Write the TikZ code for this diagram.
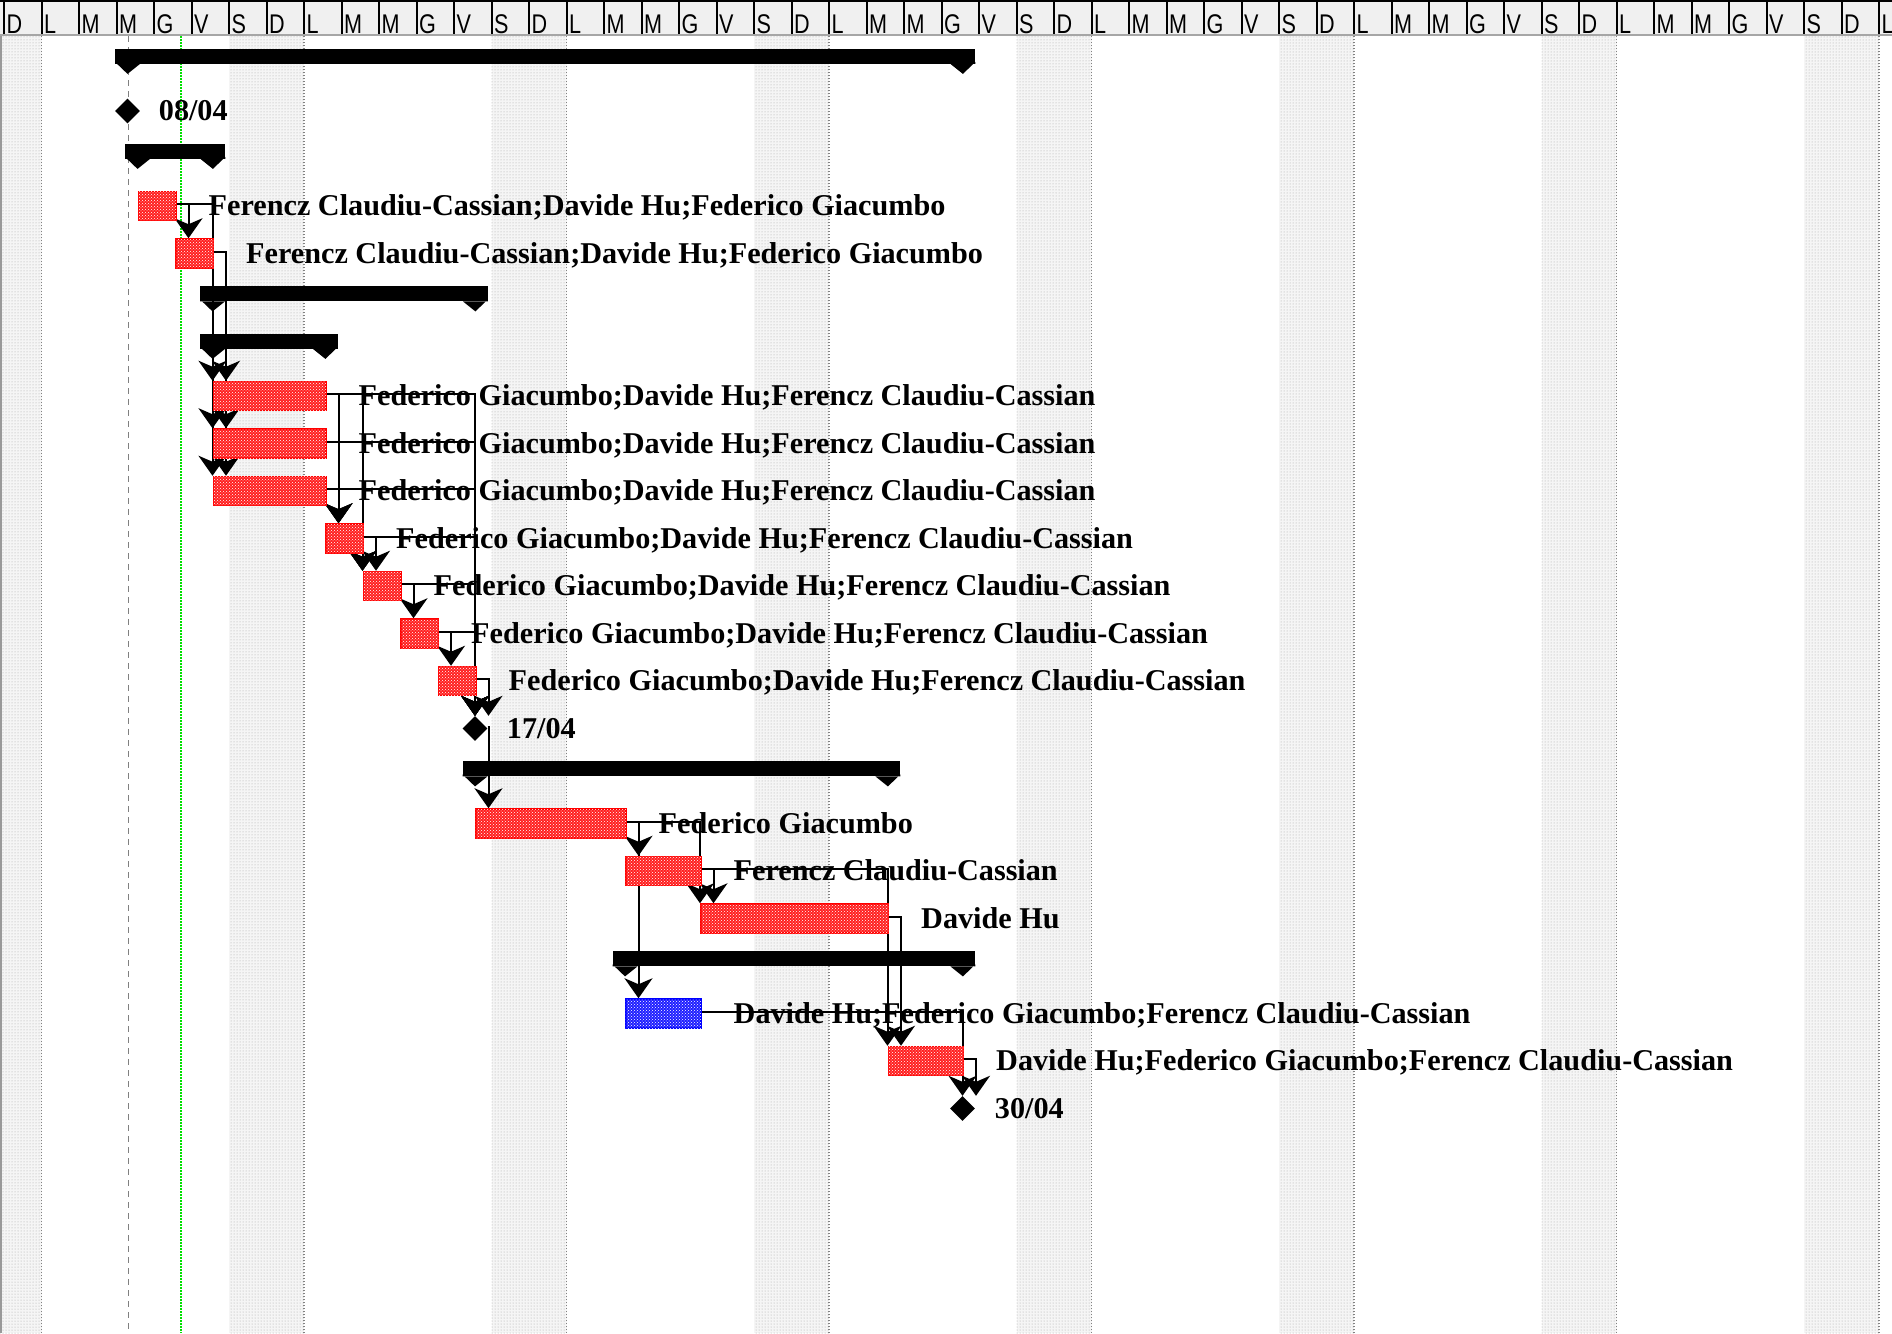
\documentclass[tikz,border=0pt]{standalone}
\usepackage{fontspec}
\setmainfont{Liberation Serif}
\newfontfamily\hdrfont[FakeStretch=0.8]{Liberation Sans}
\usetikzlibrary{positioning, shapes.geometric, patterns, arrows.meta}
\pgfdeclarelayer{grid}
\pgfdeclarelayer{links}
\pgfsetlayers{grid,links,main}
\definecolor{hdrgray}{RGB}{240,240,240}
\definecolor{wkgray}{RGB}{130,130,130}
\definecolor{todaygreen}{RGB}{0,225,0}

\begin{document}
\begin{tikzpicture}[x=1pt, y=-1pt,
    task/.style={draw=red, line width=1.5pt, fill=red!88!white, postaction={pattern=crosshatch dots, pattern color=white}, minimum height=29pt, inner sep=0pt, anchor=west},
    bluetask/.style={task, draw=blue, fill=blue!88!white},
    summ/.style={fill=black, minimum height=15pt, inner sep=0pt, anchor=north west},
    miles/.style={diamond, fill=black, minimum width=25pt, minimum height=25pt, inner sep=0pt},
    who/.style={font=\bfseries\fontsize{30.2}{31}\selectfont, inner sep=0pt, text height=25pt, text depth=6pt},
    deplink/.style={line width=2pt, -{Stealth[length=20pt, width=28pt, inset=6pt]}},
    dayletter/.style={font=\hdrfont\fontsize{27}{27}\selectfont, inner sep=0pt, anchor=base west}]
    \useasboundingbox (0,0) rectangle (1892,1333);

    % Calendar grid
    \begin{pgfonlayer}{grid}
    \fill[white] (0,0) rectangle (1892,1333);
    \fill[black!4, postaction={pattern=dots, pattern color=black!35}] (0,36) rectangle (41.5,1333);
    \foreach \w in {0,...,6}
        \fill[black!4, postaction={pattern=dots, pattern color=black!35}] (229+262.5*\w,36) rectangle ++(75,1297);
    \foreach \w in {0,...,7}
        \draw[wkgray, line width=1.5pt, dash pattern=on 1pt off 2pt] (41.5+262.5*\w,36) -- ++(0,1297);
    \draw[gray, line width=1.5pt, dash pattern=on 6pt off 5pt] (128.3,36) -- (128.3,1333);
    \draw[todaygreen, line width=1.5pt, dash pattern=on 1.5pt off 1.5pt] (181,36) -- (181,1333);
    \draw[gray!80, line width=2pt] (1,36) -- (1,1333);
    \end{pgfonlayer}

    % Header
    \fill[hdrgray] (0,0) rectangle (1892,34);
    \draw[line width=2pt] (0,1) -- (1892,1);
    \draw[gray!70, line width=2.5pt] (0,35) -- (1892,35);
    \foreach \k in {-1,...,49} {
        \pgfmathtruncatemacro\dnum{mod(\k+7,7)}
        \draw[line width=2pt] (41.5+37.5*\k,2) -- (41.5+37.5*\k,34);
        \node[dayletter] (hd\k) at (44+37.5*\k,33) {\ifcase\dnum L\or M\or M\or G\or V\or S\or D\fi};
    }

    % Summaries
    \foreach \nm/\xs/\xe/\yc in {s0/127.5/962.5/63.5, s2/137.5/212.5/158.5, s5/212.5/475/301, s6/212.5/325/348.5, s15/475/887.5/776, s19/625/962.5/966} {
        \node[summ, minimum width=\xe-\xs+25] (\nm) at (\xs-12.5,\yc-15) {};
        \fill (\nm.south west) -- ++(0,-2) -- ++(12.5,12) -- ++(12.5,-10) -- cycle;
        \fill (\nm.south east) -- ++(0,-2) -- ++(-12.5,12) -- ++(-12.5,-10) -- cycle;
    }

    % Milestones
    \node[miles] (m1) at (127.5,111) {};
    \node[miles] (m14) at (475,728.5) {};
    \node[miles] (m22) at (962.5,1108.5) {};
    \node[who, right=18.5pt of m1] (w1) {08/04};
    \node[who, right=19pt of m14] (w14) {17/04};
    \node[who, right=19.5pt of m22] (w22) {30/04};

    % Tasks
    \node[task, minimum width=37.5pt] (t3) at (137.5,206) {};
    \node[task, minimum width=37.5pt] (t4) at (175,253.5) {};
    \node[task, minimum width=112.5pt] (t7) at (212.5,396) {};
    \node[task, minimum width=112.5pt] (t8) at (212.5,443.5) {};
    \node[task, minimum width=112.5pt] (t9) at (212.5,491) {};
    \node[task, minimum width=37.5pt] (t10) at (325,538.5) {};
    \node[task, minimum width=37.5pt] (t11) at (362.5,586) {};
    \node[task, minimum width=37.5pt] (t12) at (400,633.5) {};
    \node[task, minimum width=37.5pt] (t13) at (437.5,681) {};
    \node[task, minimum width=150pt] (t16) at (475,823.5) {};
    \node[task, minimum width=75pt] (t17) at (625,871) {};
    \node[task, minimum width=187.5pt] (t18) at (700,918.5) {};
    \node[bluetask, minimum width=75pt] (t20) at (625,1013.5) {};
    \node[task, minimum width=75pt] (t21) at (887.5,1061) {};

    % Resources
    \node[who, right=32pt of t3] (w3) {Ferencz Claudiu-Cassian;Davide Hu;Federico Giacumbo};
    \node[who, right=32pt of t4] (w4) {Ferencz Claudiu-Cassian;Davide Hu;Federico Giacumbo};
    \node[who, right=32pt of t7] (w7) {Federico Giacumbo;Davide Hu;Ferencz Claudiu-Cassian};
    \node[who, right=32pt of t8] (w8) {Federico Giacumbo;Davide Hu;Ferencz Claudiu-Cassian};
    \node[who, right=32pt of t9] (w9) {Federico Giacumbo;Davide Hu;Ferencz Claudiu-Cassian};
    \node[who, right=32pt of t10] (w10) {Federico Giacumbo;Davide Hu;Ferencz Claudiu-Cassian};
    \node[who, right=32pt of t11] (w11) {Federico Giacumbo;Davide Hu;Ferencz Claudiu-Cassian};
    \node[who, right=32pt of t12] (w12) {Federico Giacumbo;Davide Hu;Ferencz Claudiu-Cassian};
    \node[who, right=32pt of t13] (w13) {Federico Giacumbo;Davide Hu;Ferencz Claudiu-Cassian};
    \node[who, right=32pt of t16] (w16) {Federico Giacumbo};
    \node[who, right=32pt of t17] (w17) {Ferencz Claudiu-Cassian};
    \node[who, right=32pt of t18] (w18) {Davide Hu};
    \node[who, right=32pt of t20] (w20) {Davide Hu;Federico Giacumbo;Ferencz Claudiu-Cassian};
    \node[who, right=32pt of t21] (w21) {Davide Hu;Federico Giacumbo;Ferencz Claudiu-Cassian};

    % Links
    \begin{pgfonlayer}{links}
    \draw[deplink] ([yshift=2pt]t3.east) -| ([xshift=13.5pt]t4.north west);
    \foreach \s in {t7,t8,t9} {
        \draw[deplink] ([yshift=2pt]t3.east) -| (\s.north west);
        \draw[deplink] ([yshift=2pt]t4.east) -| ([xshift=13.5pt]\s.north west);
    }
    \foreach \p in {t7,t8,t9} {
        \draw[deplink] ([yshift=2pt]\p.east) -| ([xshift=13.5pt]t10.north west);
        \draw[deplink] ([yshift=2pt]\p.east) -| (t11.north west);
    }
    \foreach \p in {t7,t8,t9,t10,t11,t12}
        \draw[deplink] ([yshift=2pt]\p.east) -| (m14.north);
    \draw[deplink] ([yshift=2pt]t10.east) -| ([xshift=13.5pt]t11.north west);
    \draw[deplink] ([yshift=2pt]t11.east) -| ([xshift=13.5pt]t12.north west);
    \draw[deplink] ([yshift=2pt]t12.east) -| ([xshift=13.5pt]t13.north west);
    \draw[deplink] ([yshift=2pt]t13.east) -| ([xshift=13.5pt]m14.north);
    \draw[deplink] ([yshift=2pt]m14.east) -| ([xshift=13.5pt]t16.north west);
    \draw[deplink] ([yshift=2pt]t16.east) -| ([xshift=13.5pt]t17.north west);
    \draw[deplink] ([yshift=2pt]t16.east) -| ([xshift=13.5pt]t20.north west);
    \draw[deplink] ([yshift=2pt]t16.east) -| (t18.north west);
    \draw[deplink] ([yshift=2pt]t17.east) -| ([xshift=13.5pt]t18.north west);
    \draw[deplink] ([yshift=2pt]t17.east) -| (t21.north west);
    \draw[deplink] ([yshift=2pt]t18.east) -| ([xshift=13.5pt]t21.north west);
    \draw[deplink] ([yshift=2pt]t20.east) -| (m22.north);
    \draw[deplink] ([yshift=2pt]t21.east) -| ([xshift=13.5pt]m22.north);
    \end{pgfonlayer}
\end{tikzpicture}
\end{document}
